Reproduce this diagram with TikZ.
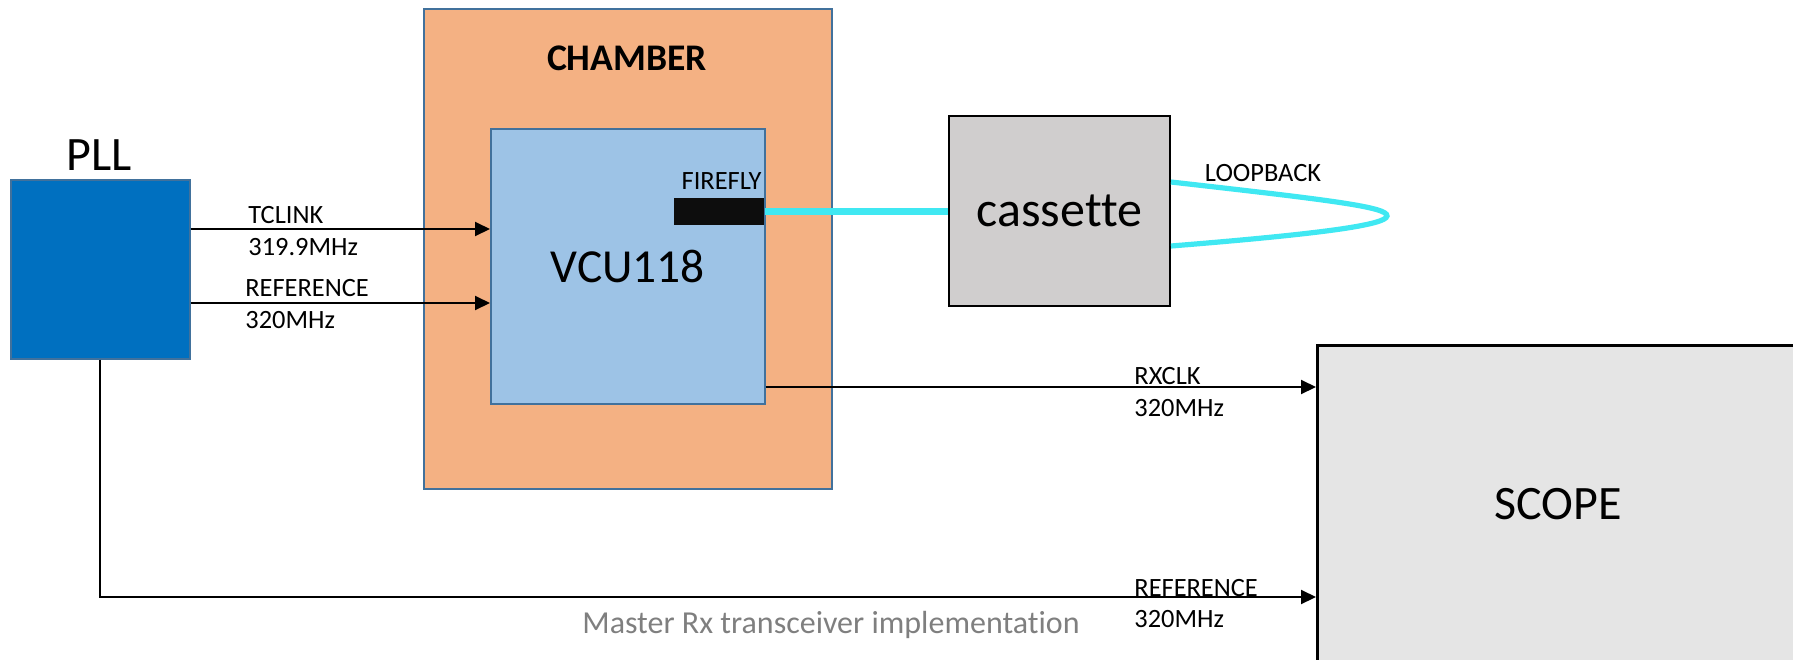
\documentclass[tikz,border=0pt]{standalone}
\usepackage{fontspec}
\setmainfont{Carlito}[Ligatures=NoCommon]
\usetikzlibrary{arrows.meta}

\definecolor{pllblue}{RGB}{0,112,192}
\definecolor{chamberorange}{RGB}{244,177,131}
\definecolor{vcublue}{RGB}{157,195,230}
\definecolor{edgeblue}{RGB}{65,113,156}
\definecolor{cassettegrey}{RGB}{208,206,206}
\definecolor{scopegrey}{RGB}{229,229,229}
\definecolor{fibrecyan}{RGB}{64,232,242}
\definecolor{fireblack}{RGB}{13,13,13}
\definecolor{captiongrey}{RGB}{127,127,127}

\tikzset{
  box/.style={draw=edgeblue, line width=0.8pt, inner sep=0pt, anchor=north west},
  sig/.style={-{Triangle[length=7.5pt,width=7pt]}, line width=1pt},
  fibre/.style={draw=fibrecyan, line width=3.8pt},
  lbl/.style={inner sep=0pt, anchor=base west, font=\fontsize{13.2}{16}\selectfont},
}

\begin{document}
\begin{tikzpicture}[x=0.5pt,y=0.5pt,yscale=-1]
\useasboundingbox (0,0) rectangle (1793,659);

% chamber with the board inside
\node[box, fill=chamberorange, minimum width=204pt, minimum height=240pt] (chamber) at (423,8) {};
\node[anchor=base, inner sep=0pt, font=\bfseries\fontsize{18.8}{22}\selectfont] (chambertxt) at (627,70) {CHAMBER};
\node[box, fill=vcublue, minimum width=137pt, minimum height=137.5pt, font=\fontsize{23.7}{28}\selectfont] (vcu) at (490,128) {VCU118};
\node[box, draw=none, fill=fireblack, minimum width=45pt, minimum height=13.5pt] (firefly) at (673,197) {};
\node[lbl, anchor=base east] (fireflytxt) at (762,189) {FIREFLY};

% cassette and scope
\node[box, draw=black, line width=1pt, fill=cassettegrey, minimum width=110.5pt, minimum height=95pt, font=\fontsize{25}{30}\selectfont] (cassette) at (948,115) {cassette};
\node[box, draw=black, line width=1.3pt, fill=scopegrey, minimum width=241pt, minimum height=159pt, font=\fontsize{24}{28}\selectfont] (scope) at (1316,344) {SCOPE};

% PLL
\node[box, fill=pllblue, minimum width=89.5pt, minimum height=89.5pt] (pll) at (10,179) {};
\node[anchor=base, inner sep=0pt, font=\fontsize{24}{28}\selectfont] (plltxt) at (99,170) {PLL};

% fibre
\draw[fibre] (firefly.east) -- (cassette.west |- firefly.east);
\coordinate (looptip) at (1387,216);
\draw[fibre, line width=2.6pt] (cassette.east |- 0,182) .. controls (1330,200) and (1388,207) .. (looptip) .. controls (1386,225) and (1320,234) .. (cassette.east |- 0,246);
\node[lbl, anchor=base] (looptxt) at (1263,181) {LOOPBACK};

% clock lines
\draw[sig] (pll.east |- 0,229) -- (vcu.west |- 0,229);
\draw[sig] (pll.east |- 0,303) -- (vcu.west |- 0,303);
\draw[sig] (vcu.east |- 0,387) -- (scope.west |- 0,387);
\draw[sig] (pll.south) |- (scope.west |- 0,597);

% labels
\node[lbl] (tclinktxt) at (248,223) {TCLINK};
\node[lbl] (tclinkfreq) at (248,255) {319.9MHz};
\node[lbl] (reftxt) at (245,296) {REFERENCE};
\node[lbl] (reffreq) at (245,328) {320MHz};
\node[lbl] (rxclktxt) at (1134,384) {RXCLK};
\node[lbl] (rxclkfreq) at (1134,416) {320MHz};
\node[lbl] (scopereftxt) at (1134,596) {REFERENCE};
\node[lbl] (scopereffreq) at (1134,627) {320MHz};

\node[anchor=base, inner sep=0pt, text=captiongrey, font=\fontsize{16}{19}\selectfont] (caption) at (831,633) {Master Rx transceiver implementation};
\end{tikzpicture}
\end{document}
